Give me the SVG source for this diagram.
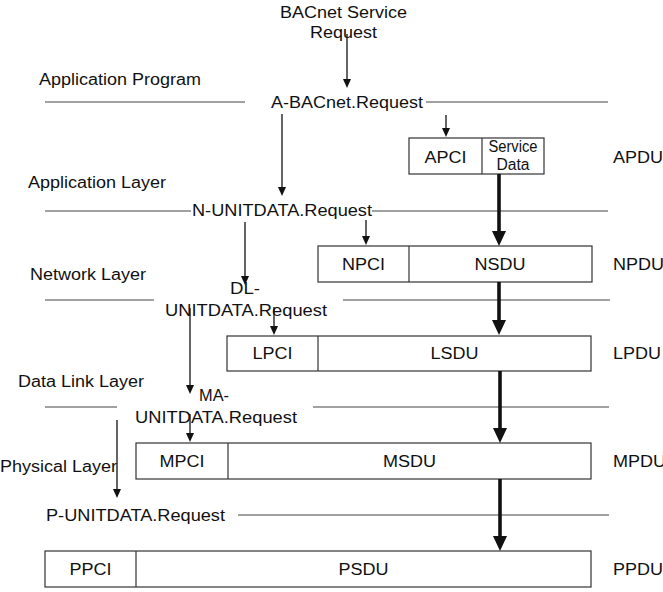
<svg xmlns="http://www.w3.org/2000/svg" width="663" height="592" viewBox="0 0 663 592">
<style>
text{font-family:"Liberation Sans",Arial,sans-serif;font-size:16px;fill:#111;}
.c{text-anchor:middle;}
.box{fill:#fff;stroke:#333;stroke-width:1.2;}
.hl{stroke:#444;stroke-width:1.2;fill:none;}
.thin{stroke:#111;stroke-width:1.3;fill:none;marker-end:url(#ah);}
.thick{stroke:#111;stroke-width:3.6;fill:none;marker-end:url(#ahb);}
</style>
<defs>
<marker id="ah" markerUnits="userSpaceOnUse" markerWidth="9" markerHeight="8" refX="0" refY="4" orient="auto"><path d="M0,0 L9,4 L0,8 z" fill="#111"/></marker>
<marker id="ahb" markerUnits="userSpaceOnUse" markerWidth="15" markerHeight="14" refX="0" refY="7" orient="auto"><path d="M0,0 L15,7 L0,14 z" fill="#111"/></marker>
</defs>
<rect width="663" height="592" fill="#fff"/>

<g id="layer-lines">
<line class="hl" x1="45" y1="102" x2="245" y2="102"/><line class="hl" x1="426" y1="102" x2="608" y2="102"/>
<line class="hl" x1="45" y1="211" x2="191" y2="211"/><line class="hl" x1="372" y1="211" x2="608" y2="211"/>
<line class="hl" x1="45" y1="300" x2="154" y2="300"/><line class="hl" x1="343" y1="300" x2="610" y2="300"/>
<line class="hl" x1="45" y1="407" x2="117" y2="407"/><line class="hl" x1="313" y1="407" x2="609" y2="407"/>
<line class="hl" x1="238" y1="515" x2="609" y2="515"/>
</g>

<g id="layer-labels">
<text x="39" y="85" textLength="162" lengthAdjust="spacingAndGlyphs">Application Program</text>
<text x="28" y="188" textLength="138" lengthAdjust="spacingAndGlyphs">Application Layer</text>
<text x="30" y="280" textLength="116" lengthAdjust="spacingAndGlyphs">Network Layer</text>
<text x="18" y="387" textLength="126" lengthAdjust="spacingAndGlyphs">Data Link Layer</text>
<text x="0" y="472" textLength="117" lengthAdjust="spacingAndGlyphs">Physical Layer</text>
</g>

<g id="service-request">
<text class="c" x="343.5" y="18" textLength="127" lengthAdjust="spacingAndGlyphs">BACnet Service</text>
<text class="c" x="343.5" y="38" textLength="67" lengthAdjust="spacingAndGlyphs">Request</text>
</g>
<g id="a-request"><text x="271" y="108" textLength="152" lengthAdjust="spacingAndGlyphs">A-BACnet.Request</text></g>
<g id="n-request"><text x="192" y="216" textLength="180" lengthAdjust="spacingAndGlyphs">N-UNITDATA.Request</text></g>
<g id="dl-request">
<text x="230" y="294" textLength="30" lengthAdjust="spacingAndGlyphs">DL-</text>
<text x="165" y="316" textLength="162" lengthAdjust="spacingAndGlyphs">UNITDATA.Request</text>
</g>
<g id="ma-request">
<text x="199" y="401" textLength="30" lengthAdjust="spacingAndGlyphs">MA-</text>
<text x="135" y="423" textLength="162" lengthAdjust="spacingAndGlyphs">UNITDATA.Request</text>
</g>
<g id="p-request"><text x="46" y="521" textLength="179" lengthAdjust="spacingAndGlyphs">P-UNITDATA.Request</text></g>

<g id="apdu">
<rect class="box" x="409" y="138" width="135" height="36"/>
<line class="box" x1="482" y1="138" x2="482" y2="174"/>
<text class="c" x="445.5" y="163" textLength="42" lengthAdjust="spacingAndGlyphs">APCI</text>
<text class="c" x="513" y="152" textLength="49" lengthAdjust="spacingAndGlyphs">Service</text>
<text class="c" x="513" y="170" textLength="33" lengthAdjust="spacingAndGlyphs">Data</text>
<text x="613" y="163" textLength="50" lengthAdjust="spacingAndGlyphs">APDU</text>
</g>
<g id="npdu">
<rect class="box" x="318" y="246" width="274" height="36"/>
<line class="box" x1="409" y1="246" x2="409" y2="282"/>
<text class="c" x="363.5" y="270" textLength="43" lengthAdjust="spacingAndGlyphs">NPCI</text>
<text class="c" x="500" y="270" textLength="51" lengthAdjust="spacingAndGlyphs">NSDU</text>
<text x="613" y="270" textLength="51" lengthAdjust="spacingAndGlyphs">NPDU</text>
</g>
<g id="lpdu">
<rect class="box" x="227" y="336" width="364" height="35"/>
<line class="box" x1="318" y1="336" x2="318" y2="371"/>
<text class="c" x="272.5" y="359" textLength="40" lengthAdjust="spacingAndGlyphs">LPCI</text>
<text class="c" x="454.5" y="359" textLength="48" lengthAdjust="spacingAndGlyphs">LSDU</text>
<text x="613" y="359" textLength="48" lengthAdjust="spacingAndGlyphs">LPDU</text>
</g>
<g id="mpdu">
<rect class="box" x="136" y="443" width="455" height="36"/>
<line class="box" x1="228" y1="443" x2="228" y2="479"/>
<text class="c" x="182" y="467" textLength="45" lengthAdjust="spacingAndGlyphs">MPCI</text>
<text class="c" x="409.5" y="467" textLength="53" lengthAdjust="spacingAndGlyphs">MSDU</text>
<text x="613" y="467" textLength="53" lengthAdjust="spacingAndGlyphs">MPDU</text>
</g>
<g id="ppdu">
<rect class="box" x="45" y="551" width="546" height="36"/>
<line class="box" x1="136" y1="551" x2="136" y2="587"/>
<text class="c" x="90.5" y="575" textLength="42" lengthAdjust="spacingAndGlyphs">PPCI</text>
<text class="c" x="363.5" y="575" textLength="50" lengthAdjust="spacingAndGlyphs">PSDU</text>
<text x="613" y="575" textLength="50" lengthAdjust="spacingAndGlyphs">PPDU</text>
</g>

<g id="connectors">
<line class="thin" x1="347" y1="34" x2="347" y2="79"/>
<line class="thin" x1="282" y1="114" x2="282" y2="187"/>
<line class="thin" x1="446" y1="115" x2="446" y2="128"/>
<line class="thin" x1="245" y1="222" x2="245" y2="276"/>
<line class="thin" x1="366" y1="220" x2="366" y2="236"/>
<line class="thin" x1="274" y1="307" x2="274" y2="326"/>
<line class="thin" x1="190" y1="308" x2="190" y2="385"/>
<line class="thin" x1="190" y1="414" x2="190" y2="433"/>
<line class="thin" x1="117" y1="420" x2="117" y2="489"/>
<line class="thick" x1="499" y1="174" x2="499" y2="231"/>
<line class="thick" x1="499" y1="282" x2="499" y2="320"/>
<line class="thick" x1="500" y1="371" x2="500" y2="428"/>
<line class="thick" x1="500" y1="479" x2="500" y2="536"/>
</g>
</svg>
